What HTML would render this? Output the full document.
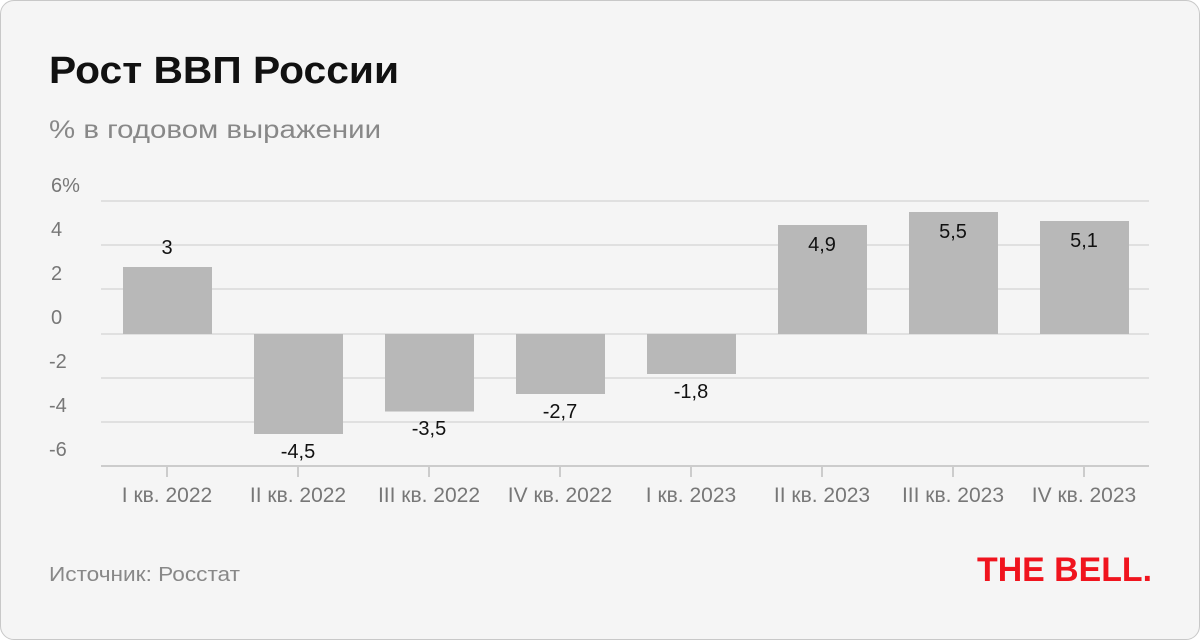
<!DOCTYPE html>
<html><head><meta charset="utf-8"><style>
body{margin:0;background:#fff;}
.c{position:absolute;left:0;top:0;width:1198px;height:638px;border:1px solid #c8c8c8;border-radius:14px;background:#f5f5f5;overflow:hidden;}
svg{position:absolute;left:0;top:0;}
text{font-family:"Liberation Sans",sans-serif;}
</style></head><body><div class="c">
<svg width="1200" height="640">
<text x="48" y="82" font-size="38" font-weight="bold" fill="#111" textLength="350" lengthAdjust="spacingAndGlyphs">Рост ВВП России</text>
<text x="48" y="137" font-size="25" fill="#888" textLength="332" lengthAdjust="spacingAndGlyphs">% в годовом выражении</text>
<g stroke="#e0e0e0" stroke-width="2">
<line x1="100" x2="1148" y1="200" y2="200"/><line x1="100" x2="1148" y1="244" y2="244"/>
<line x1="100" x2="1148" y1="288" y2="288"/><line x1="100" x2="1148" y1="333" y2="333"/>
<line x1="100" x2="1148" y1="377" y2="377"/><line x1="100" x2="1148" y1="421" y2="421"/>
</g>
<g font-size="20" fill="#777">
<text x="50" y="191">6%</text><text x="50" y="235">4</text><text x="50" y="279">2</text>
<text x="50" y="323">0</text><text x="48" y="367">-2</text><text x="48" y="411">-4</text><text x="48" y="455">-6</text>
</g>
<g fill="#b8b8b8">
<rect x="122" y="266" width="89" height="67"/>
<rect x="253" y="333" width="89" height="100"/>
<rect x="384" y="333" width="89" height="77.5"/>
<rect x="515" y="333" width="89" height="60"/>
<rect x="646" y="333" width="89" height="40"/>
<rect x="777" y="224" width="89" height="109"/>
<rect x="908" y="211" width="89" height="122"/>
<rect x="1039" y="220" width="89" height="113"/>
</g>
<g stroke="#ccc" stroke-width="2">
<line x1="100" x2="1148" y1="465" y2="465"/>
<line x1="166" x2="166" y1="465" y2="476"/><line x1="297" x2="297" y1="465" y2="476"/>
<line x1="428" x2="428" y1="465" y2="476"/><line x1="559" x2="559" y1="465" y2="476"/>
<line x1="690" x2="690" y1="465" y2="476"/><line x1="821" x2="821" y1="465" y2="476"/>
<line x1="952" x2="952" y1="465" y2="476"/><line x1="1083" x2="1083" y1="465" y2="476"/>
</g>
<g font-size="20" fill="#111" text-anchor="middle">
<text x="166" y="253">3</text><text x="297" y="457">-4,5</text><text x="428" y="434">-3,5</text>
<text x="559" y="417">-2,7</text><text x="690" y="397">-1,8</text><text x="821" y="250">4,9</text>
<text x="952" y="237">5,5</text><text x="1083" y="246">5,1</text>
</g>
<g font-size="21" fill="#777" text-anchor="middle">
<text x="166" y="501">I кв. 2022</text><text x="297" y="501">II кв. 2022</text>
<text x="428" y="501">III кв. 2022</text><text x="559" y="501">IV кв. 2022</text>
<text x="690" y="501">I кв. 2023</text><text x="821" y="501">II кв. 2023</text>
<text x="952" y="501">III кв. 2023</text><text x="1083" y="501">IV кв. 2023</text>
</g>
<text x="48" y="580" font-size="20" fill="#888" textLength="191" lengthAdjust="spacingAndGlyphs">Источник: Росстат</text>
<text x="976" y="580" font-size="34" font-weight="bold" fill="#f0141e" textLength="175" lengthAdjust="spacingAndGlyphs">THE BELL.</text>
</svg></div></body></html>
